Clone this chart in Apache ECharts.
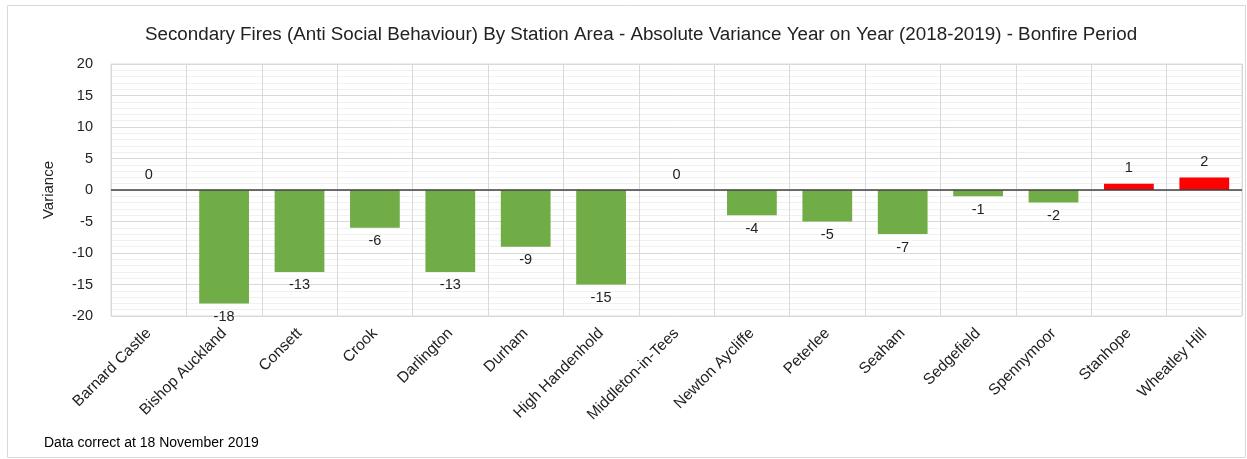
<!DOCTYPE html>
<html><head><meta charset="utf-8">
<script src="https://cdn.jsdelivr.net/npm/echarts@6/dist/echarts.min.js"></script>
<style>html,body{margin:0;padding:0;background:#fff}#c{width:1247px;height:459px}</style>
</head><body><div id="c"></div>
<script>
const categories = ["Barnard Castle","Bishop Auckland","Consett","Crook","Darlington","Durham","High Handenhold","Middleton-in-Tees","Newton Aycliffe","Peterlee","Seaham","Sedgefield","Spennymoor","Stanhope","Wheatley Hill"];
const variance = [0,-18,-13,-6,-13,-9,-15,0,-4,-5,-7,-1,-2,1,2];
const yTicks = [-20,-15,-10,-5,0,5,10,15,20];
const titleText = "Secondary Fires (Anti Social Behaviour) By Station Area - Absolute Variance Year on Year (2018-2019) - Bonfire Period";
const footText = "Data correct at 18 November 2019";
const FONT = "Liberation Sans";
const chart = echarts.init(document.getElementById('c'));
chart.setOption({
  animation:false,
  textStyle:{fontFamily:FONT},
  graphic:[
    {type:'rect',shape:{x:7.5,y:5.5,width:1238,height:452},style:{fill:'none',stroke:'#d9d9d9',lineWidth:1}},
    {type:'text',left:44,top:436,style:{text:footText,font:'14px "'+FONT+'"',fill:'#000'}}
  ],
  title:{text:titleText,left:140,top:20,textStyle:{fontFamily:FONT,fontSize:18.8,fontWeight:'normal',color:'#222'}},
  grid:{left:111,right:5,top:64,bottom:143,show:true,borderColor:'#d9d9d9',borderWidth:1},
  xAxis:{type:'category',data:categories,
    axisLine:{onZero:false,show:false},
    axisTick:{show:false},
    splitLine:{show:true,lineStyle:{color:'#d9d9d9'}},
    axisLabel:{rotate:45,interval:0,fontSize:15.5,color:'#222',margin:15,fontFamily:FONT}},
  yAxis:{type:'value',min:yTicks[0],max:yTicks[yTicks.length-1],interval:5,
    name:'Variance',nameLocation:'middle',nameGap:55,nameTextStyle:{fontSize:15,color:'#222',fontFamily:FONT},
    axisLine:{show:false},axisTick:{show:false},
    axisLabel:{fontSize:14.5,color:'#222',margin:18,fontFamily:FONT},
    splitLine:{lineStyle:{color:'#d9d9d9'}},
    minorTick:{show:false,splitNumber:5},
    minorSplitLine:{show:true,lineStyle:{color:'#f0f0f0'}}},
  series:[{type:'bar',barCategoryGap:'34%',
    data:variance.map(v=>({value:v,
      itemStyle:{color:v>0?'#ff0000':'#70ad47'},
      label:{show:true,position:v>=0?'top':'bottom',distance:v>=0?8:6}})),
    label:{fontSize:14.5,color:'#222',fontFamily:FONT},
    markLine:{silent:true,symbol:'none',label:{show:false},z:10,
      lineStyle:{color:'#404040',width:1.5,type:'solid'},data:[{yAxis:0}]}}]
});
</script></body></html>
